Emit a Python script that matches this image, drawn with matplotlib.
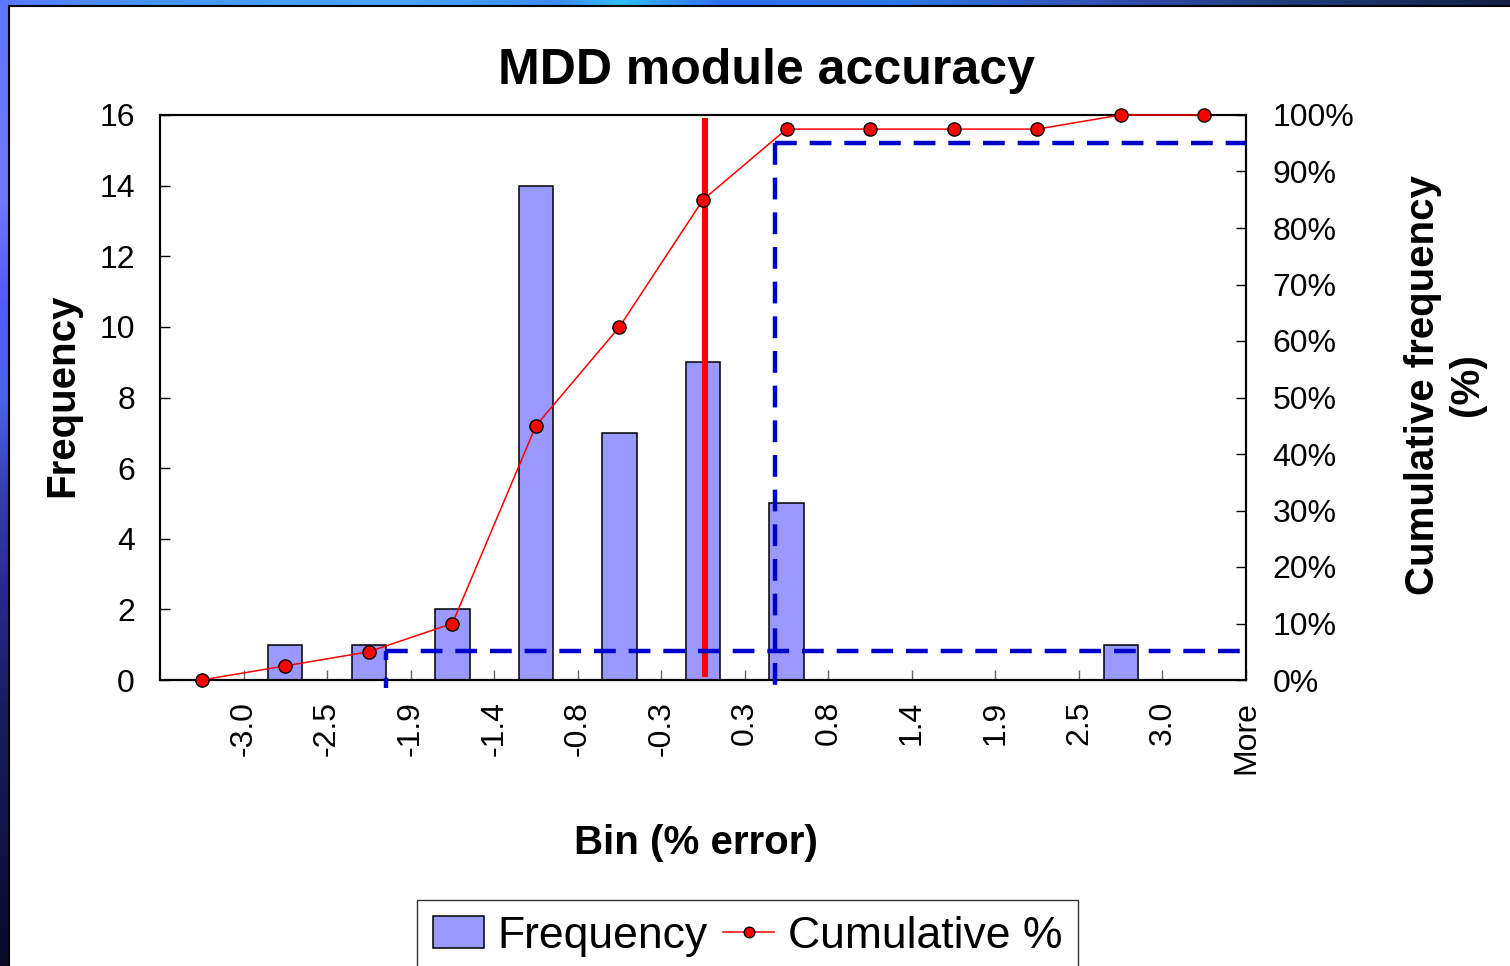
import numpy as np
import matplotlib
matplotlib.use("Agg")
import matplotlib.pyplot as plt
from matplotlib.patches import Rectangle

plt.rcParams['font.family'] = ['Liberation Sans', 'DejaVu Sans']

# ---------------- data ----------------
bin_labels = ["-3.0", "-2.5", "-1.9", "-1.4", "-0.8", "-0.3", "0.3",
              "0.8", "1.4", "1.9", "2.5", "3.0", "More"]
frequency = [0, 1, 1, 2, 14, 7, 9, 5, 0, 0, 0, 1, 0]
cumulative_pct = [0, 2.5, 5, 10, 45, 62.5, 85, 97.5, 97.5, 97.5, 97.5, 100, 100]
mean_x = 6.02            # red vertical marker (category coordinate)
mean_span_pct = (0.5, 99.4)
lower_x, lower_pct = 2.2, 5.2     # lower percentile guide
upper_x, upper_pct = 6.86, 95.0   # upper percentile guide

W, H = 1510, 966
fig = plt.figure(figsize=(W / 100, H / 100), dpi=100)

# ---------------- slide background ----------------
bg = fig.add_axes([0, 0, 1, 1], zorder=-10)
xs = np.arange(W)
ys = np.arange(H)
top_pos = [0, 150, 400, 560, 620, 720, 900, 1100, 1300, 1510]
top_col = np.array([[90, 120, 255], [70, 150, 245], [75, 165, 250], [60, 140, 245],
                    [50, 190, 250], [50, 110, 240], [45, 120, 230], [50, 80, 180],
                    [30, 60, 120], [20, 30, 70]]) / 255
left_pos = [0, 200, 300, 400, 500, 600, 700, 966]
left_col = np.array([[90, 120, 255], [110, 120, 255], [80, 90, 255], [70, 100, 230],
                     [50, 60, 170], [40, 40, 140], [25, 30, 100], [10, 10, 40]]) / 255
img = np.ones((H, W, 3))
topc = np.stack([np.interp(xs, top_pos, top_col[:, k]) for k in range(3)], axis=1)
leftc = np.stack([np.interp(ys, left_pos, left_col[:, k]) for k in range(3)], axis=1)
img[:, :, :] = leftc[:, None, :]
img[:7, :, :] = topc[None, :, :]
bg.imshow(img, aspect='auto', extent=[0, W, H, 0])
bg.set_xlim(0, W)
bg.set_ylim(H, 0)
bg.axis('off')
bg.add_patch(Rectangle((9, 5.5), W, H, facecolor='white', edgecolor='black', lw=1.5))

# ---------------- main axes ----------------
ax = fig.add_axes([160 / W, 1 - 680 / H, (1246 - 160) / W, (680 - 115) / H])
ax.set_facecolor('none')
x = np.arange(len(frequency))
bars = ax.bar(x, frequency, width=0.41, color='#9999FF', edgecolor='black',
              linewidth=1.1, label='Frequency', zorder=2)
ax.set_xlim(-0.5, len(frequency) - 0.5)
ax.set_ylim(0, 16)
ax.set_yticks(np.arange(0, 17, 2))
ax.set_xticks(x + 0.5)
ax.set_xticklabels(bin_labels, rotation=90)
ax.tick_params(axis='x', direction='in', length=7, width=1, color='#666666',
               labelsize=23, pad=15)
ax.tick_params(axis='y', direction='in', length=7, width=1, labelsize=23, pad=18)
for s in ax.spines.values():
    s.set_linewidth(1.5)

ax2 = ax.twinx()
ax2.set_ylim(0, 100)
ax2.set_yticks(np.arange(0, 101, 10))
ax2.set_yticklabels([f"{v}%" for v in range(0, 101, 10)])
ax2.tick_params(axis='y', direction='in', length=7, width=1, labelsize=23, pad=19)
for s in ax2.spines.values():
    s.set_linewidth(1.5)

# red vertical line
ax2.plot([mean_x, mean_x], list(mean_span_pct), color='red', lw=4.4,
         solid_capstyle='butt', zorder=3)

# blue dashed guides
dash_lw = 3.2
dashes = (4.9, 2.9)
ax2.plot([lower_x, len(frequency) - 0.5], [lower_pct, lower_pct], color='#0000CC',
         lw=dash_lw, dashes=dashes, zorder=4)
ax2.plot([lower_x, lower_x], [-1.4, lower_pct], color='#0000CC', lw=dash_lw,
         dashes=(2.3, 4.0), zorder=4, clip_on=False)
ax2.plot([upper_x, len(frequency) - 0.5], [upper_pct, upper_pct], color='#0000CC',
         lw=dash_lw, dashes=dashes, zorder=4)
ax2.plot([upper_x, upper_x], [upper_pct, -1.0], color='#0000CC', lw=dash_lw,
         dashes=dashes, zorder=4, clip_on=False)

# cumulative line
line, = ax2.plot(x, cumulative_pct, color='red', lw=1.1, marker='o', markersize=9.5,
                 markerfacecolor='red', markeredgecolor='black', markeredgewidth=1.0,
                 label='Cumulative %', zorder=5, clip_on=False)

# ---------------- texts ----------------
fig.text(766 / W, 1 - 71 / H, "MDD module accuracy", ha='center', va='center',
         fontsize=36, fontweight='bold')
fig.text(62 / W, 1 - 395 / H, "Frequency", rotation=90, ha='center', va='center',
         fontsize=29, fontweight='bold')
fig.text(696 / W, 1 - 843 / H, "Bin (% error)", ha='center', va='center',
         fontsize=29, fontweight='bold')
fig.text(1445 / W, 1 - 385 / H, "Cumulative frequency\n(%)", rotation=90,
         ha='center', va='center', multialignment='center', fontsize=29,
         fontweight='bold', linespacing=1.2)

# ---------------- legend ----------------
leg = fig.legend([bars, line], ['Frequency', 'Cumulative %'], ncol=2,
                 loc='upper center', bbox_to_anchor=(747.5 / W, 1 - 900 / H),
                 fontsize=32, frameon=True, fancybox=False, edgecolor='black',
                 handlelength=1.15, handletextpad=0.3, columnspacing=0.35,
                 borderpad=0.35, markerscale=0.8, borderaxespad=0)
leg.get_frame().set_linewidth(1.0)

fig.savefig("out.png", dpi=100)
